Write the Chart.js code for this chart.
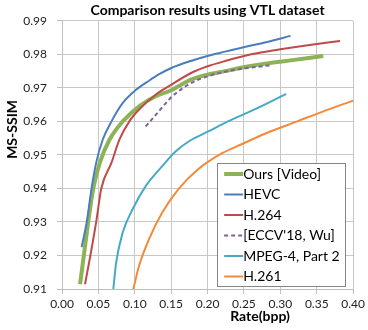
<!DOCTYPE html>
<html>
<head>
<meta charset="utf-8">
<script src="https://cdn.jsdelivr.net/npm/chart.js@4"></script>
<style>
html,body{margin:0;padding:0;background:#fff;}
#wrap{width:368px;height:330px;position:relative;}
</style>
</head>
<body>
<div id="wrap"><canvas id="c"></canvas></div>
<script>
// ---- data ----
const seriesNames = ["Ours [Video]", "HEVC", "H.264", "[ECCV'18, Wu]", "MPEG-4, Part 2", "H.261"];

const oursRate = [0.0248, 0.030, 0.036, 0.043, 0.052, 0.0654, 0.0835, 0.106, 0.1287, 0.147, 0.178, 0.201, 0.224, 0.251, 0.282, 0.314, 0.359];
const oursSSIM = [0.9114, 0.920, 0.930, 0.940, 0.9477, 0.9546, 0.960, 0.9645, 0.9675, 0.969, 0.9725, 0.974, 0.975, 0.9762, 0.9773, 0.9782, 0.9795];

const hevcRate = [0.027, 0.034, 0.0406, 0.047, 0.056, 0.068, 0.0835, 0.1016, 0.12, 0.133, 0.151, 0.178, 0.201, 0.224, 0.251, 0.282, 0.314];
const hevcSSIM = [0.9225, 0.930, 0.940, 0.9477, 0.9546, 0.960, 0.9655, 0.9694, 0.9722, 0.9740, 0.9760, 0.9781, 0.9796, 0.9808, 0.9822, 0.9837, 0.9855];

const h264Rate = [0.0316, 0.039, 0.047, 0.054, 0.068, 0.079, 0.0925, 0.108, 0.129, 0.147, 0.178, 0.201, 0.224, 0.26, 0.30, 0.34, 0.382];
const h264SSIM = [0.9114, 0.920, 0.930, 0.940, 0.9477, 0.9546, 0.960, 0.964, 0.968, 0.9705, 0.9745, 0.9765, 0.978, 0.980, 0.9815, 0.9828, 0.984];

const eccvRate = [0.115, 0.133, 0.147, 0.160, 0.178, 0.201, 0.224, 0.251, 0.289];
const eccvSSIM = [0.9585, 0.963, 0.9665, 0.969, 0.9715, 0.9735, 0.9748, 0.9758, 0.9768];

const mpeg4Rate = [0.0705, 0.0745, 0.0835, 0.097, 0.115, 0.138, 0.156, 0.174, 0.201, 0.228, 0.269, 0.308];
const mpeg4SSIM = [0.910, 0.918, 0.9269, 0.9338, 0.9407, 0.9467, 0.951, 0.954, 0.957, 0.960, 0.964, 0.9682];

const h261Rate = [0.098, 0.106, 0.1196, 0.1377, 0.160, 0.187, 0.220, 0.246, 0.282, 0.323, 0.359, 0.40];
const h261SSIM = [0.910, 0.917, 0.9249, 0.9328, 0.9398, 0.9457, 0.9505, 0.9531, 0.9566, 0.960, 0.963, 0.9662];

const xTicks = [0.00, 0.05, 0.10, 0.15, 0.20, 0.25, 0.30, 0.35, 0.40];
const yTicks = [0.91, 0.92, 0.93, 0.94, 0.95, 0.96, 0.97, 0.98, 0.99];

// ---- build ----
const pts = (xs, ys) => xs.map((x, i) => ({x: x, y: ys[i]}));
const colors = ["#8DB356", "#4A7EBB", "#BE4B48", "#7D60A0", "#46AAC5", "#F38A3A"];
const widths = [4, 2, 2, 2, 2, 2];
const dashes = [[], [], [], [4, 3], [], []];
const allData = [pts(oursRate, oursSSIM), pts(hevcRate, hevcSSIM), pts(h264Rate, h264SSIM),
                 pts(eccvRate, eccvSSIM), pts(mpeg4Rate, mpeg4SSIM), pts(h261Rate, h261SSIM)];

const datasets = seriesNames.map((n, i) => ({
  label: n,
  data: allData[i],
  borderColor: colors[i],
  backgroundColor: colors[i],
  borderWidth: widths[i],
  borderDash: dashes[i],
  showLine: true,
  pointRadius: 0,
  fill: false,
  cubicInterpolationMode: 'monotone',
  order: 6 - i
}));

const FONT = "Lato";

const customDraw = {
  id: 'customDraw',
  afterDraw(chart) {
    const ctx = chart.ctx, a = chart.chartArea;
    ctx.save();
    // axis titles
    ctx.fillStyle = "#000";
    ctx.font = "bold 14px " + FONT;
    ctx.textAlign = "center";
    ctx.textBaseline = "middle";
    ctx.fillText("Rate(bpp)", a.left + (a.right - a.left) * 0.68, 316);
    ctx.save();
    ctx.translate(12, a.top + (a.bottom - a.top) * 0.405);
    ctx.rotate(-Math.PI / 2);
    ctx.fillText("MS-SSIM", 0, 0);
    ctx.restore();
    // legend inside plot
    const bw = 128, bh = 123;
    const bx = a.right - 8 - bw, by = a.bottom - 3 - bh;
    ctx.fillStyle = "#fff";
    ctx.fillRect(bx, by, bw, bh);
    ctx.strokeStyle = "#868686";
    ctx.lineWidth = 1;
    ctx.strokeRect(Math.round(bx) + 0.5, Math.round(by) + 0.5, bw, bh);
    ctx.font = "14px " + FONT;
    ctx.textAlign = "left";
    ctx.textBaseline = "middle";
    chart.data.datasets.forEach((d, i) => {
      const yy = by + 11 + i * 20.5;
      ctx.strokeStyle = d.borderColor;
      ctx.lineWidth = d.borderWidth;
      ctx.setLineDash(d.borderDash || []);
      ctx.beginPath();
      ctx.moveTo(bx + 7, yy);
      ctx.lineTo(bx + 26, yy);
      ctx.stroke();
      ctx.setLineDash([]);
      ctx.fillStyle = "#000";
      ctx.fillText(d.label, bx + 26, yy);
    });
    ctx.restore();
  }
};

new Chart(document.getElementById('c'), {
  type: 'scatter',
  data: {datasets: datasets},
  options: {
    responsive: true,
    maintainAspectRatio: false,
    animation: false,
    layout: {padding: {left: 0, right: 12, top: 0, bottom: 0}},
    plugins: {
      legend: {display: false},
      tooltip: {enabled: false},
      title: {
        display: true,
        text: "Comparison results using VTL dataset",
        fullSize: false,
        color: "#000",
        font: {family: FONT, size: 14, weight: 'bold'},
        padding: {top: 2, bottom: 2}
      }
    },
    scales: {
      x: {
        type: 'linear',
        min: 0, max: 0.4,
        afterFit(s) { s.height = 41; },
        afterBuildTicks(s) { s.ticks = xTicks.map(v => ({value: v})); },
        ticks: {
          color: "#222",
          font: {family: FONT, size: 12},
          padding: 3,
          maxRotation: 0,
          callback: v => Number(v).toFixed(2)
        },
        grid: {color: "#C8C8C8", borderDash: [3, 2], tickLength: 5, tickColor: "#BFBFBF", tickBorderDash: []},
        border: {display: true, color: "#BFBFBF", width: 1}
      },
      y: {
        type: 'linear',
        min: 0.91, max: 0.99,
        afterFit(s) { s.width = 62; },
        afterBuildTicks(s) { s.ticks = yTicks.map(v => ({value: v})); },
        ticks: {
          color: "#222",
          font: {family: FONT, size: 12},
          padding: 10,
          callback: v => Number(v).toFixed(2)
        },
        grid: {color: "#C8C8C8", borderDash: [3, 2], tickLength: 5, tickColor: "#BFBFBF", tickBorderDash: []},
        border: {display: true, color: "#BFBFBF", width: 1}
      }
    }
  },
  plugins: [customDraw]
});
</script>
</body>
</html>
